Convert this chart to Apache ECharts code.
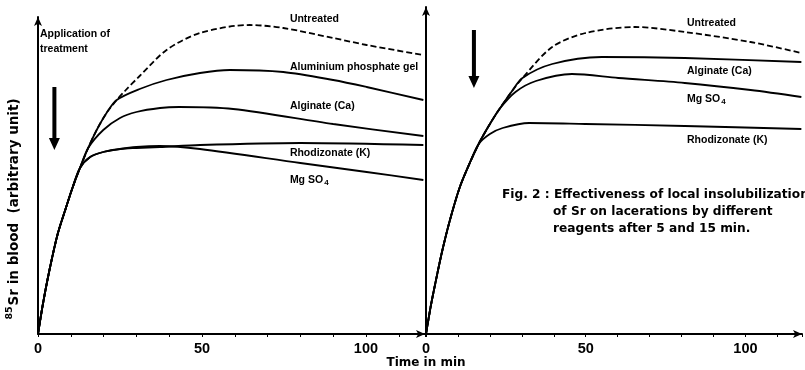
<!DOCTYPE html>
<html><head><meta charset="utf-8">
<script src="https://cdn.jsdelivr.net/npm/echarts@6/dist/echarts.min.js"></script>
<style>html,body{margin:0;padding:0;background:#fff}#c{width:805px;height:370px}</style>
</head><body><div id="c"></div>
<script>
// ---- data (time in min, 85Sr in blood in arbitrary units) ----
const xTickLabels = [0, 50, 100];

// Left panel: treatment after 5 min
const leftUntreated   = [[0,0],[1.5,30],[3.5,64],[6,100],[8.5,126],[10.5,146],[12.8,166],[15.3,186],[17.9,204],[20.9,221],[24,234],[26.5,243],[31,258],[39.2,284],[49.4,301],[64.6,309],[74.8,306],[90,296],[100.2,289],[117.5,279]];
const leftAluminium   = [[0,0],[1.5,30],[3.5,64],[6,100],[8.5,126],[10.5,146],[12.8,166],[15.3,186],[17.9,204],[20.9,221],[24,234],[31,245],[39.2,254],[49.4,261],[58.5,264],[74.8,262],[90,254],[100.2,247],[117.5,234]];
const leftAlginate    = [[0,0],[1.5,30],[3.5,64],[6,100],[8.5,126],[10.5,146],[12.8,166],[15.3,186],[19.9,204],[25,216],[30,222],[37.2,226],[43,227],[59.5,225],[90,210],[117.5,198]];
const leftRhodizonate = [[0,0],[1.5,30],[3.5,64],[6,100],[8.5,126],[10.5,146],[12.8,166],[15.9,177],[19.9,182],[25,185],[30,186],[37.2,187],[49.4,189],[80,191],[117.5,189]];
const leftMgSO4       = [[0,0],[1.5,30],[3.5,64],[6,100],[8.5,126],[10.5,146],[12.8,166],[15.9,177],[19.9,182],[25,185],[30,187],[37.2,188],[49.4,185],[80,171],[100.2,162],[117.5,154]];

// Right panel: treatment after 15 min
const rightUntreated   = [[0,0],[1.5,28],[3,52],[5,82],[7.5,114],[10.6,147],[13.7,171],[16.8,192],[20,210],[23,225],[26.5,241],[30.2,256],[39.5,287],[49.9,301],[65.4,307],[81,302],[101.6,292],[117.5,281]];
const rightAlginate    = [[0,0],[1.5,28],[3,52],[5,82],[7.5,114],[10.6,147],[13.7,171],[16.8,192],[20,210],[23,225],[26.5,241],[30.2,256],[39.5,270],[55,277],[81,276],[117.5,272]];
const rightMgSO4       = [[0,0],[1.5,28],[3,52],[5,82],[7.5,114],[10.6,147],[13.7,171],[16.8,192],[20,210],[23,225],[28,242],[34.4,253],[45.7,260],[60.2,256],[81,251],[101.6,244],[117.5,237]];
const rightRhodizonate = [[0,0],[1.5,28],[3,52],[5,82],[7.5,114],[10.6,147],[13.7,171],[16.5,190],[20,200],[24,206],[32.3,211],[49.9,210],[81,208],[117.5,205]];

const treatmentTimes = [5, 15];

const FONT = '"Liberation Sans", Arial, sans-serif';
const WFONT = '"DejaVu Sans", sans-serif';
const chart = echarts.init(document.getElementById('c'), null, {renderer: 'canvas'});

function xAxisDef(gi, max) {
  return {
    gridIndex: gi, type: 'value', min: 0, max: max, interval: 10,
    axisLine: {show: true, onZero: false, lineStyle: {color: '#000', width: 2}, symbol: ['none', 'arrow'], symbolSize: [6, 9]},
    axisTick: {show: true, length: 3, lineStyle: {color: '#000', width: 1}},
    axisLabel: {formatter: v => xTickLabels.includes(v) ? String(v) : '', fontSize: 14.5, fontWeight: 'bold', color: '#000', margin: 7, fontFamily: FONT},
    splitLine: {show: false}
  };
}
function yAxisDef(gi, max) {
  return {
    gridIndex: gi, type: 'value', min: 0, max: max,
    axisLine: {show: true, onZero: false, lineStyle: {color: '#000', width: 2}, symbol: ['none', 'arrow'], symbolSize: [6, 9]},
    axisTick: {show: false}, axisLabel: {show: false}, splitLine: {show: false}
  };
}
function lineSeries(gi, data, dashed) {
  return {
    type: 'line', xAxisIndex: gi, yAxisIndex: gi, data: data,
    showSymbol: false, smooth: 0.3, silent: true,
    lineStyle: {color: '#000', width: 1.8, type: dashed ? [6, 3] : 'solid'},
    z: dashed ? 3 : 2
  };
}

chart.setOption({
  animation: false,
  backgroundColor: '#fff',
  grid: [
    {left: 38, top: 17, width: 387, height: 317},
    {left: 426, top: 7, width: 379, height: 327}
  ],
  xAxis: [xAxisDef(0, 118), xAxisDef(1, 117.7)],
  yAxis: [yAxisDef(0, 317), yAxisDef(1, 327)],
  series: [
    lineSeries(0, leftAluminium), lineSeries(0, leftAlginate), lineSeries(0, leftRhodizonate), lineSeries(0, leftMgSO4),
    lineSeries(0, leftUntreated, true),
    lineSeries(1, rightAlginate), lineSeries(1, rightMgSO4), lineSeries(1, rightRhodizonate),
    lineSeries(1, rightUntreated, true)
  ]
});

// ---- annotations ----
const labelDefs = [
  {g: 0, t: 76.8, v: 315, text: 'Untreated'},
  {g: 0, t: 76.8, v: 267, text: 'Aluminium phosphate gel'},
  {g: 0, t: 76.8, v: 228, text: 'Alginate (Ca)'},
  {g: 0, t: 76.8, v: 181, text: 'Rhodizonate (K)'},
  {g: 0, t: 76.8, v: 154, text: '{a|Mg SO}{s|4}'},
  {g: 1, t: 81.7, v: 311, text: 'Untreated'},
  {g: 1, t: 81.7, v: 263, text: 'Alginate (Ca)'},
  {g: 1, t: 81.7, v: 235, text: '{a|Mg SO}{s|4}'},
  {g: 1, t: 81.7, v: 194, text: 'Rhodizonate (K)'}
];
const arrowDefs = [
  {g: 0, t: treatmentTimes[0], v1: 247, v2: 184},
  {g: 1, t: treatmentTimes[1], v1: 304, v2: 246}
];
function P(g, t, v) { return chart.convertToPixel({gridIndex: g}, [t, v]); }

const LBL = 10.5;
const graphics = [];
labelDefs.forEach(d => {
  const p = P(d.g, d.t, d.v);
  graphics.push({type: 'text', x: p[0], y: p[1], silent: true, style: {
    text: d.text, fill: '#000', fontSize: LBL, fontWeight: 'bold', fontFamily: FONT,
    align: 'left', verticalAlign: 'middle',
    rich: {a: {fontSize: LBL, fontWeight: 'bold', fontFamily: FONT, fill: '#000'},
           s: {fontSize: 8, fontWeight: 'bold', fontFamily: FONT, fill: '#000', padding: [6, 0, 0, 1]}}
  }});
});
arrowDefs.forEach(d => {
  const a = P(d.g, d.t, d.v1), b = P(d.g, d.t, d.v2);
  const x = a[0], y1 = a[1], y2 = b[1];
  graphics.push({type: 'polygon', silent: true, shape: {points: [
    [x - 2, y1], [x + 2, y1], [x + 2, y2 - 12], [x + 5.5, y2 - 12], [x, y2], [x - 5.5, y2 - 12], [x - 2, y2 - 12]
  ]}, style: {fill: '#000'}});
});
const app = P(0, 0.6, 300), app2 = P(0, 0.6, 285);
graphics.push({type: 'text', x: app[0], y: app[1], silent: true, style: {text: 'Application of', fill: '#000', fontSize: LBL, fontWeight: 'bold', fontFamily: FONT, align: 'left', verticalAlign: 'middle'}});
graphics.push({type: 'text', x: app2[0], y: app2[1], silent: true, style: {text: 'treatment', fill: '#000', fontSize: LBL, fontWeight: 'bold', fontFamily: FONT, align: 'left', verticalAlign: 'middle'}});

// y-axis title
graphics.push({type: 'text', x: 14, y: 209, rotation: Math.PI / 2, silent: true, style: {
  text: '{p|85}{m|Sr in blood  (arbitrary unit)}', align: 'center', verticalAlign: 'middle', fill: '#000',
  rich: {p: {fontSize: 9.5, fontWeight: 'bold', fontFamily: WFONT, fill: '#000', padding: [0, 1, 9, 0]},
         m: {fontSize: 13.5, fontWeight: 'bold', fontFamily: WFONT, fill: '#000'}}
}});
// x-axis title
graphics.push({type: 'text', x: 426, y: 363, silent: true, style: {text: 'Time in min', fill: '#000', fontSize: 12, fontWeight: 'bold', fontFamily: WFONT, align: 'center', verticalAlign: 'middle'}});
// caption
const capStyle = {fill: '#000', fontSize: 12.2, fontWeight: 'bold', fontFamily: WFONT, align: 'left', verticalAlign: 'middle'};
graphics.push({type: 'text', x: 502, y: 195, silent: true, style: Object.assign({text: 'Fig. 2 : Effectiveness of local insolubilization'}, capStyle)});
graphics.push({type: 'text', x: 553, y: 212, silent: true, style: Object.assign({text: 'of Sr on lacerations by different'}, capStyle)});
graphics.push({type: 'text', x: 553, y: 229, silent: true, style: Object.assign({text: 'reagents after 5 and 15 min.'}, capStyle)});

chart.setOption({graphic: graphics});
</script></body></html>
